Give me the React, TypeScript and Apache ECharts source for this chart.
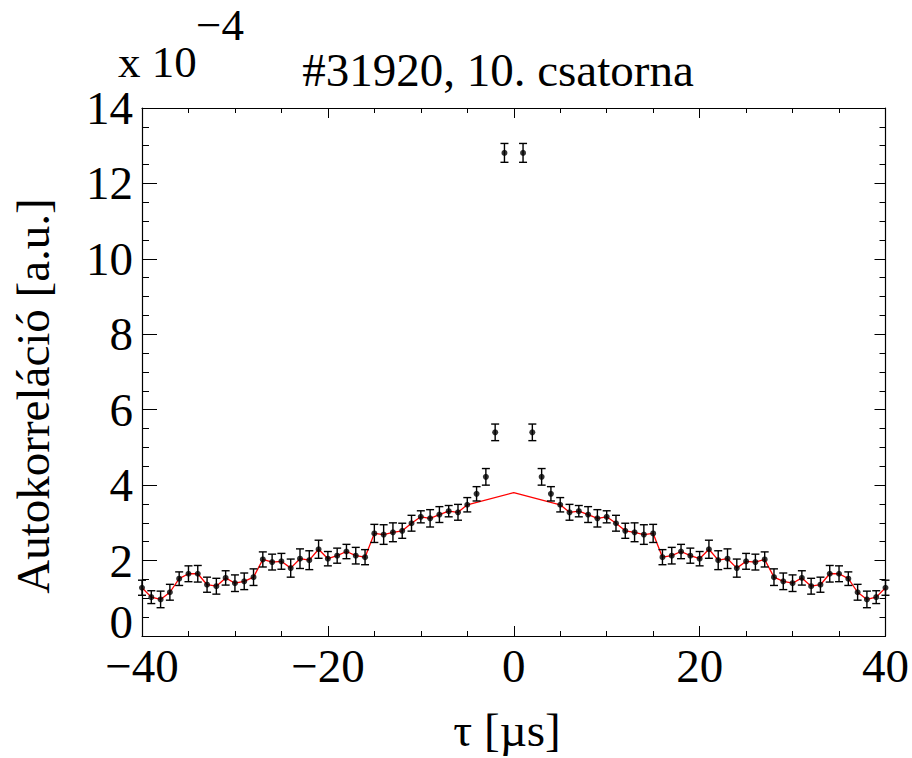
import React, { useEffect, useRef } from "react";
import * as echarts from "echarts";

// Time lag τ in µs (the τ = 0 value lies far above the plotted range)
const tauValues = [
  -40, -39, -38, -37, -36, -35, -34, -33, -32, -31, -30, -29, -28, -27, -26, -25, -24, -23, -22, -21,
  -20, -19, -18, -17, -16, -15, -14, -13, -12, -11, -10, -9, -8, -7, -6, -5, -4, -3, -2, -1,
  1, 2, 3, 4, 5, 6, 7, 8, 9, 10, 11, 12, 13, 14, 15, 16, 17, 18, 19, 20,
  21, 22, 23, 24, 25, 26, 27, 28, 29, 30, 31, 32, 33, 34, 35, 36, 37, 38, 39, 40,
];

// Autocorrelation in units of 1e-4
const autocorr = [
  1.28, 1.03, 0.97, 1.16, 1.52, 1.65, 1.65, 1.36, 1.32, 1.54, 1.4, 1.45, 1.56, 2.03, 1.96, 1.98, 1.8, 2.05, 2.01, 2.3,
  2.05, 2.13, 2.24, 2.13, 2.09, 2.72, 2.69, 2.75, 2.79, 2.99, 3.16, 3.12, 3.22, 3.31, 3.28, 3.48, 3.77, 4.22, 5.4, 12.81,
  12.81, 5.4, 4.22, 3.77, 3.48, 3.28, 3.31, 3.22, 3.12, 3.16, 2.99, 2.79, 2.75, 2.69, 2.72, 2.09, 2.13, 2.24, 2.13, 2.05,
  2.3, 2.01, 2.05, 1.8, 1.98, 1.96, 2.03, 1.56, 1.45, 1.4, 1.54, 1.32, 1.36, 1.65, 1.65, 1.52, 1.16, 0.97, 1.03, 1.28,
];

// Statistical uncertainty (half-width of the error bar), units of 1e-4
const autocorrErr = [
  0.2, 0.17, 0.22, 0.21, 0.18, 0.21, 0.22, 0.2, 0.21, 0.19, 0.22, 0.22, 0.22, 0.2, 0.21, 0.21, 0.24, 0.26, 0.25, 0.24,
  0.19, 0.2, 0.19, 0.22, 0.2, 0.24, 0.26, 0.25, 0.2, 0.21, 0.16, 0.23, 0.21, 0.15, 0.21, 0.19, 0.19, 0.22, 0.22, 0.25,
  0.25, 0.22, 0.22, 0.19, 0.19, 0.21, 0.15, 0.21, 0.23, 0.16, 0.21, 0.2, 0.25, 0.26, 0.24, 0.2, 0.22, 0.19, 0.2, 0.19,
  0.24, 0.25, 0.26, 0.24, 0.21, 0.21, 0.2, 0.22, 0.22, 0.22, 0.19, 0.21, 0.2, 0.22, 0.21, 0.18, 0.21, 0.22, 0.17, 0.2,
];

// Background curve: |τ| >= 5 follows the data, the central peak is bridged by a straight fit
const fitTau = [0];
const fitValue = [3.8];
const fitMinLag = 5;

const xTicks = [-40, -20, 0, 20, 40];
const yTicks = [0, 2, 4, 6, 8, 10, 12, 14];

const FONT = "'Liberation Serif', 'Times New Roman', Times, 'DejaVu Serif', serif";

export default function App() {
  const ref = useRef<HTMLDivElement>(null);

  useEffect(() => {
    const chart = echarts.init(ref.current!, null, { renderer: "svg" });

    const points = tauValues.map((t, i) => [t, autocorr[i]]);
    const bars = tauValues.map((t, i) => [t, autocorr[i] - autocorrErr[i], autocorr[i] + autocorrErr[i]]);

    const fitPoints: number[][] = [];
    tauValues.forEach((t, i) => {
      if (t <= -fitMinLag) fitPoints.push([t, autocorr[i]]);
    });
    fitTau.forEach((t, i) => fitPoints.push([t, fitValue[i]]));
    tauValues.forEach((t, i) => {
      if (t >= fitMinLag) fitPoints.push([t, autocorr[i]]);
    });

    const minus = (v: number) => (v < 0 ? "\u2212" + Math.abs(v) : String(v));

    const baseX = {
      type: "value",
      min: xTicks[0],
      max: xTicks[xTicks.length - 1],
      interval: xTicks[1] - xTicks[0],
      splitLine: { show: false },
      axisLine: { show: true, onZero: false, lineStyle: { color: "#000", width: 1.2 } },
      minorTick: { show: true, splitNumber: 4, length: 5, lineStyle: { color: "#000", width: 1 } },
      axisTick: { show: true, inside: true, length: 10, lineStyle: { color: "#000", width: 1 } },
    };
    const baseY = {
      type: "value",
      min: yTicks[0],
      max: yTicks[yTicks.length - 1],
      interval: yTicks[1] - yTicks[0],
      splitLine: { show: false },
      axisLine: { show: true, onZero: false, lineStyle: { color: "#000", width: 1.2 } },
      minorTick: { show: true, splitNumber: 4, length: 7, lineStyle: { color: "#000", width: 1 } },
      axisTick: { show: true, inside: true, length: 15, lineStyle: { color: "#000", width: 1 } },
    };

    const textStyle = (text: string, size: number) => ({
      text,
      fontFamily: FONT,
      fontSize: size,
      fill: "#000",
      align: "center",
      verticalAlign: "middle",
    });

    chart.setOption({
      animation: false,
      backgroundColor: "#fff",
      grid: { left: 142, right: 26, top: 108, bottom: 122 },
      xAxis: [
        {
          ...baseX,
          position: "bottom",
          axisLabel: {
            show: true,
            margin: 6,
            fontFamily: FONT,
            fontSize: 47,
            color: "#000",
            formatter: (v: number) => minus(v),
          },
        },
        {
          ...baseX,
          position: "top",
          axisLabel: { show: false },
        },
      ],
      yAxis: [
        {
          ...baseY,
          position: "left",
          axisLabel: {
            show: true,
            margin: 9,
            fontFamily: FONT,
            fontSize: 47,
            lineHeight: 28,
            color: "#000",
            formatter: (v: number) => (v === 0 ? "0\n" : String(v)),
          },
        },
        {
          ...baseY,
          position: "right",
          axisTick: { ...baseY.axisTick, length: 11 },
          minorTick: { ...baseY.minorTick, length: 6 },
          axisLabel: { show: false },
        },
      ],
      graphic: [
        { type: "text", x: 498, y: 70, style: textStyle("#31920, 10. csatorna", 47) },
        { type: "text", x: 118, y: 62, style: { ...textStyle("x 10", 45), align: "left" } },
        { type: "text", x: 196, y: 25, style: { ...textStyle("\u22124", 45), align: "left" } },
        {
          type: "text",
          x: 33,
          y: 396,
          rotation: Math.PI / 2,
          style: textStyle("Autokorreláció [a.u.]", 47),
        },
        { type: "text", x: 507, y: 730, style: textStyle("τ [µs]", 47) },
      ],
      series: [
        {
          type: "line",
          data: fitPoints,
          showSymbol: false,
          lineStyle: { color: "#ff0000", width: 1.3 },
          z: 2,
        },
        {
          type: "custom",
          data: bars,
          z: 3,
          renderItem: (params: any, api: any) => {
            const x = api.value(0);
            const lo = api.coord([x, api.value(1)]);
            const hi = api.coord([x, api.value(2)]);
            const cap = 4;
            const style = { stroke: "#000", lineWidth: 1.4 };
            return {
              type: "group",
              children: [
                { type: "line", shape: { x1: lo[0], y1: lo[1], x2: hi[0], y2: hi[1] }, style },
                { type: "line", shape: { x1: lo[0] - cap, y1: lo[1], x2: lo[0] + cap, y2: lo[1] }, style },
                { type: "line", shape: { x1: hi[0] - cap, y1: hi[1], x2: hi[0] + cap, y2: hi[1] }, style },
              ],
            };
          },
        },
        {
          type: "scatter",
          data: points,
          symbol: "circle",
          symbolSize: 6,
          itemStyle: { color: "#000" },
          z: 4,
        },
      ],
    });

    return () => chart.dispose();
  }, []);

  return (
    <div
      ref={ref}
      style={{ position: "fixed", left: 0, top: 0, width: 912, height: 758, background: "#fff" }}
    />
  );
}
